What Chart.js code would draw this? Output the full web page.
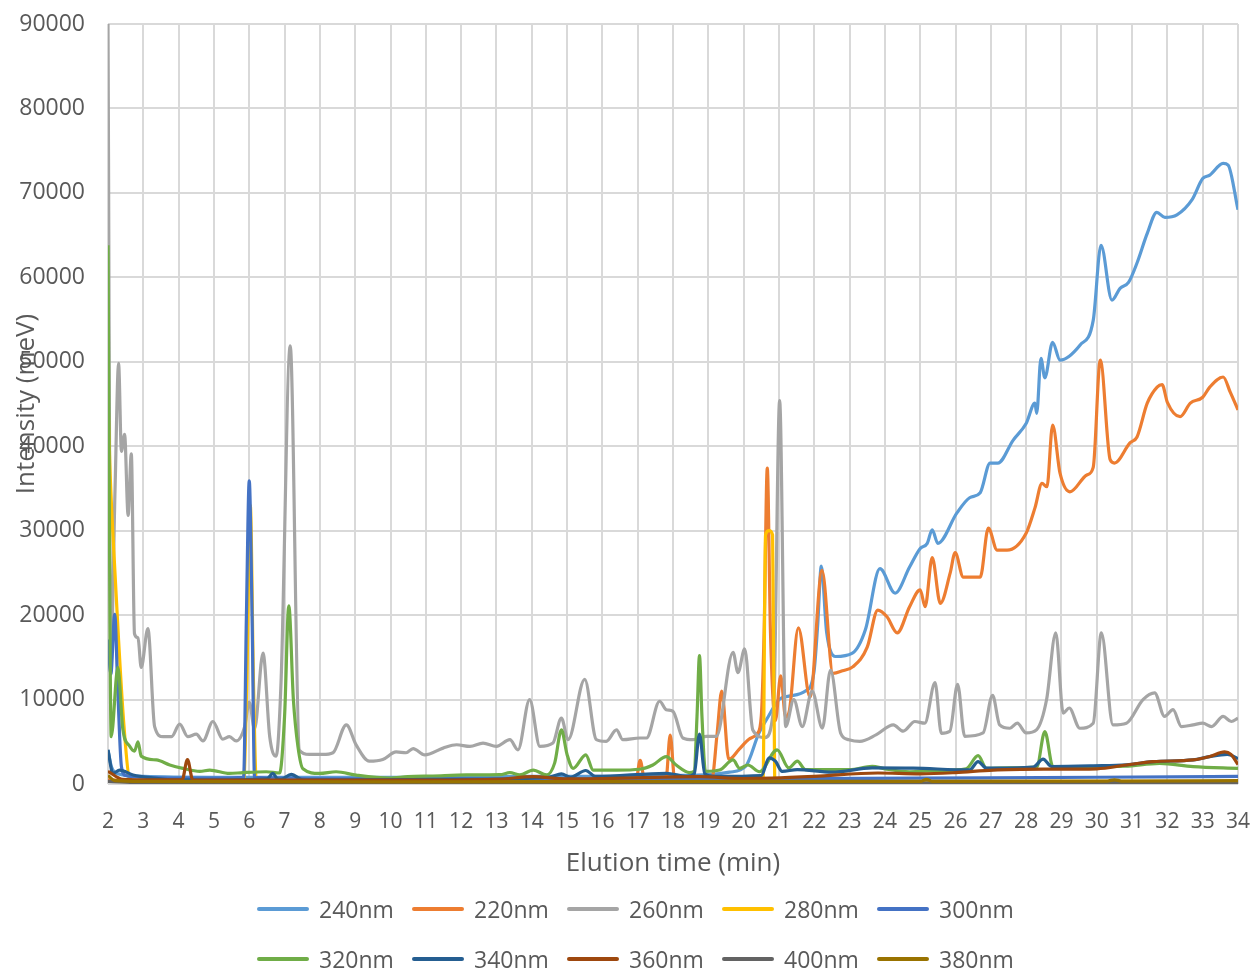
<!DOCTYPE html>
<html>
<head>
<meta charset="utf-8">
<script src="https://cdn.jsdelivr.net/npm/chart.js@4"></script>
<style>
  body { margin: 0; background: #fff; font-family: "Open Sans", sans-serif; }
  #wrap { position: relative; width: 1256px; height: 970px; }
  #legend {
    position: absolute; left: 257px; top: 884px; width: 790px;
    display: grid; grid-template-columns: repeat(5, 155px); grid-auto-rows: 50px;
  }
  .item { display: flex; align-items: center; color: #595959; font-size: 23px; }
  .swatch { width: 52px; height: 4px; border-radius: 2px; margin-right: 10px; }
</style>
</head>
<body>
<div id="wrap">
  <canvas id="myChart" width="1256" height="890"></canvas>
  <div id="legend"></div>
</div>
<script>
const seriesNames = ['240nm', '220nm', '260nm', '280nm', '300nm', '320nm', '340nm', '360nm', '400nm', '380nm']
const seriesColors = ['#5B9BD5', '#ED7D31', '#A5A5A5', '#FFC000', '#4472C4', '#70AD47', '#255E91', '#9E480E', '#636363', '#997300']

const t240 = [2, 2.1, 2.3, 3, 5, 8, 10, 12, 14, 16, 18, 19, 19.6, 20.06, 20.43, 20.7, 21.0, 21.28, 21.75, 21.99, 22.1, 22.2, 22.35, 22.6, 23.08, 23.45, 23.86, 24.29, 24.7, 25.0, 25.2, 25.34, 25.5, 26.04, 26.4, 26.7, 26.98, 27.2, 27.63, 28.0, 28.25, 28.3, 28.42, 28.53, 28.75, 28.96, 29.53, 29.9, 30.12, 30.43, 30.66, 30.9, 31.14, 31.43, 31.7, 31.93, 32.27, 32.7, 33.0, 33.2, 33.58, 33.72, 34.0]
const v240 = [4000, 2000, 1200, 900, 800, 800, 800, 800, 900, 900, 1000, 1100, 1400, 2100, 6000, 8000, 10000, 10400, 11000, 13200, 19000, 25800, 18000, 15100, 15500, 18300, 25500, 22600, 25700, 27900, 28500, 30100, 28500, 32100, 33900, 34500, 38000, 38000, 40700, 42700, 45100, 43900, 50400, 48100, 52300, 50200, 52000, 54900, 63800, 57300, 58700, 59400, 61700, 65200, 67700, 67100, 67400, 69200, 71700, 72100, 73500, 73300, 68000]

const t220 = [2, 3, 6, 10, 14, 16.95, 17.07, 17.2, 17.8, 17.92, 18.05, 18.5, 19.1, 19.25, 19.38, 19.58, 19.87, 20.15, 20.39, 20.5, 20.58, 20.67, 20.76, 20.9, 21.05, 21.19, 21.3, 21.55, 21.88, 22.22, 22.53, 22.8, 23.1, 23.5, 23.8, 24.06, 24.35, 24.7, 25.0, 25.14, 25.34, 25.57, 25.85, 25.99, 26.22, 26.7, 26.93, 27.18, 27.46, 28.0, 28.25, 28.45, 28.59, 28.75, 28.96, 29.24, 29.72, 29.9, 30.1, 30.38, 30.5, 30.94, 31.14, 31.43, 31.71, 31.85, 32.0, 32.36, 32.65, 33.0, 33.2, 33.58, 33.78, 34.0]
const v220 = [500, 400, 400, 400, 400, 400, 2800, 400, 500, 5800, 500, 500, 600, 6000, 11000, 2900, 4100, 5300, 6000, 8000, 18000, 37400, 18000, 7500, 12800, 7900, 8800, 18500, 10300, 25300, 13100, 13400, 13900, 16200, 20600, 19800, 17900, 21000, 23000, 21000, 26800, 21400, 25000, 27400, 24500, 24500, 30300, 27700, 27700, 29700, 32700, 35600, 35200, 42500, 36800, 34600, 36600, 37500, 50200, 38400, 38000, 40400, 41100, 45100, 47000, 47300, 45200, 43500, 45100, 45800, 47000, 48200, 46400, 44300]

const t260 = [2, 2.08, 2.2, 2.3, 2.38, 2.47, 2.57, 2.66, 2.75, 2.85, 2.94, 3.13, 3.32, 3.56, 3.8, 4.03, 4.26, 4.5, 4.69, 4.97, 5.25, 5.44, 5.63, 5.87, 6.0, 6.15, 6.39, 6.58, 6.76, 6.9, 7.16, 7.42, 7.7, 8.08, 8.37, 8.75, 9.03, 9.4, 9.78, 10.16, 10.44, 10.64, 10.97, 11.49, 11.87, 12.25, 12.62, 13.0, 13.38, 13.61, 13.94, 14.23, 14.6, 14.84, 15.03, 15.5, 15.83, 16.11, 16.4, 16.58, 17.06, 17.25, 17.62, 17.81, 18.0, 18.28, 18.57, 18.94, 19.23, 19.7, 19.84, 20.03, 20.26, 20.6, 20.85, 21.02, 21.19, 21.42, 21.66, 21.94, 22.23, 22.46, 22.75, 22.98, 23.29, 23.76, 24.24, 24.52, 24.85, 25.13, 25.42, 25.6, 25.84, 26.06, 26.26, 26.78, 27.05, 27.25, 27.54, 27.75, 28.0, 28.3, 28.58, 28.84, 29.05, 29.22, 29.52, 29.9, 30.13, 30.46, 30.84, 31.31, 31.64, 31.92, 32.16, 32.4, 32.73, 33.0, 33.25, 33.58, 33.81, 34.0]
const v260 = [90000, 15000, 35000, 49800, 39400, 41400, 31800, 39100, 17800, 17300, 13800, 18400, 6800, 5600, 5600, 7100, 5600, 5900, 5100, 7400, 5300, 5600, 5100, 6800, 9700, 6500, 15500, 5600, 3300, 12000, 51900, 4000, 3500, 3500, 3700, 7000, 4600, 2700, 2900, 3800, 3700, 4200, 3450, 4250, 4650, 4450, 4850, 4450, 5250, 4050, 10000, 4450, 4850, 7800, 5250, 12400, 5250, 5050, 6400, 5250, 5450, 5450, 9800, 8800, 8600, 5450, 5250, 5650, 5650, 15600, 13200, 16000, 6400, 5500, 9000, 45400, 6800, 10000, 6800, 11000, 6600, 13500, 6000, 5250, 5050, 5850, 7000, 6250, 7400, 7200, 12000, 6000, 6250, 11800, 5650, 6050, 10500, 7000, 6600, 7200, 6050, 6450, 10000, 17900, 8400, 9000, 6600, 7200, 17900, 7000, 7200, 10000, 10800, 8000, 8800, 6800, 7000, 7200, 6800, 8000, 7400, 7800]

const t280 = [2, 2.05, 2.14, 2.3, 2.45, 2.61, 2.8, 5.84, 5.93, 6.03, 6.12, 6.2, 20.55, 20.62, 20.72, 20.82, 20.88, 21.1, 34]
const v280 = [46000, 38000, 29500, 17000, 7000, 600, 300, 300, 12000, 33000, 12000, 300, 500, 29500, 30000, 29500, 500, 300, 300]

const t300 = [2, 2.08, 2.19, 2.28, 2.38, 2.5, 3, 4, 5, 5.84, 5.92, 6.0, 6.08, 6.15, 7, 8, 10, 15, 20, 25, 30, 34]
const v300 = [17100, 13000, 20100, 10800, 2060, 1000, 800, 700, 700, 800, 20000, 35900, 20000, 800, 700, 600, 600, 600, 600, 700, 800, 900]

const t320 = [2, 2.09, 2.28, 2.42, 2.61, 2.75, 2.85, 2.94, 3.37, 3.75, 4.12, 4.6, 4.88, 5.44, 5.82, 6.48, 6.86, 7.0, 7.12, 7.25, 7.38, 7.52, 7.99, 8.46, 9.03, 9.97, 10.49, 11.2, 12.15, 13.1, 13.38, 13.66, 14.04, 14.42, 14.65, 14.84, 15.0, 15.17, 15.53, 15.74, 16.4, 17.06, 17.43, 17.81, 18.09, 18.47, 18.6, 18.68, 18.75, 18.82, 18.92, 19.32, 19.7, 19.89, 20.12, 20.45, 20.95, 21.28, 21.52, 21.75, 23.0, 23.64, 24.0, 24.7, 25.5, 26.3, 26.64, 26.88, 27.5, 28.3, 28.53, 28.76, 29.9, 30.8, 31.78, 32.73, 34]
const v320 = [63800, 5600, 13800, 6500, 4500, 3900, 5000, 3300, 2850, 2250, 1850, 1500, 1650, 1250, 1350, 1450, 1300, 8000, 21100, 10000, 4400, 1800, 1250, 1450, 1050, 700, 870, 950, 1070, 1100, 1350, 1070, 1650, 1070, 2500, 6400, 3500, 1850, 3450, 1650, 1650, 1750, 2250, 3250, 2250, 1350, 1500, 8000, 15200, 8000, 1500, 1650, 2850, 1850, 2250, 1450, 4050, 1900, 2700, 1700, 1700, 2100, 1800, 1450, 1600, 1800, 3350, 1850, 1900, 2000, 6200, 2050, 2050, 2100, 2450, 2050, 1850]

const t340 = [2, 2.14, 2.33, 2.71, 3.37, 3.84, 5, 6.5, 6.67, 6.8, 6.9, 7.19, 7.52, 9, 12, 14.5, 14.84, 15.1, 15.53, 15.8, 17.81, 18.4, 18.6, 18.75, 18.9, 19.2, 20.5, 20.72, 20.9, 21.09, 21.52, 22.5, 23.64, 24.8, 26.4, 26.64, 26.88, 28.2, 28.48, 28.72, 29.9, 30.84, 31.6, 32.73, 33.2, 33.7, 34]
const v340 = [4050, 1250, 1650, 1070, 680, 480, 480, 600, 1250, 600, 550, 1150, 480, 500, 550, 800, 1200, 800, 1600, 900, 1270, 900, 1200, 5900, 1200, 900, 1000, 3100, 2700, 1500, 1700, 1400, 1900, 1870, 1670, 2650, 1870, 2000, 2950, 2070, 2150, 2270, 2650, 2850, 3250, 3500, 3000]

const t360 = [2, 2.42, 3, 4.1, 4.25, 4.4, 6, 10, 13, 14.04, 15, 18.75, 20, 20.8, 22, 23.8, 25, 26, 27.07, 28.5, 30, 30.84, 31.6, 32.73, 33.2, 33.62, 33.8, 34]
const v360 = [1500, 550, 500, 500, 2900, 500, 450, 450, 550, 870, 600, 870, 650, 700, 900, 1300, 1200, 1350, 1650, 1750, 1800, 2250, 2650, 2850, 3250, 3800, 3500, 2300]

const t400 = [2, 3, 10, 20, 28, 34]
const v400 = [300, 150, 100, 100, 150, 200]

const t380 = [2, 2.2, 3, 10, 20, 25.0, 25.18, 25.35, 30.3, 30.5, 30.7, 34]
const v380 = [1000, 400, 300, 250, 300, 300, 550, 300, 350, 500, 350, 400]

const times = [t240, t220, t260, t280, t300, t320, t340, t360, t400, t380]
const values = [v240, v220, v260, v280, v300, v320, v340, v360, v400, v380]

const axisGray = '#595959'
const gridGray = '#D9D9D9'

const datasets = seriesNames.map((name, i) => ({
	label: name,
	data: times[i].map((t, j) => ({ x: t, y: values[i][j] })),
	borderColor: seriesColors[i],
	backgroundColor: seriesColors[i],
	borderWidth: 3.2,
	pointRadius: 0,
	cubicInterpolationMode: 'monotone',
	order: -i,
}))

const ctx = document.getElementById('myChart')

const chart = new Chart(ctx, {
	type: 'line',
	data: { datasets },
	options: {
		responsive: false,
		animation: false,
		devicePixelRatio: 1,
		layout: { padding: { top: 24, right: 18, left: 0, bottom: 0 } },
		plugins: {
			legend: { display: false },
			tooltip: { enabled: false },
		},
		scales: {
			x: {
				type: 'linear',
				min: 2,
				max: 34,
				afterFit: (scale) => { scale.height = 106 },
				// label gap comes from an invisible tick so it does not eat plot room
				grid: { color: gridGray, lineWidth: 2, tickLength: 25, tickColor: 'rgba(0,0,0,0)' },
				border: { display: false },
				ticks: {
					stepSize: 1,
					padding: 0,
					color: axisGray,
					font: { family: 'Open Sans', size: 21 },
					callback: (v) => v,
				},
				title: {
					display: true,
					text: 'Elution time (min)',
					color: axisGray,
					font: { family: 'Open Sans', size: 26 },
					padding: { top: 0, bottom: 11 },
				},
			},
			y: {
				min: 0,
				max: 90000,
				afterFit: (scale) => { scale.width = 108 },
				grid: { color: gridGray, lineWidth: 2, tickLength: 23, tickColor: 'rgba(0,0,0,0)' },
				border: { display: false },
				ticks: {
					stepSize: 10000,
					padding: 0,
					color: axisGray,
					font: { family: 'Open Sans', size: 23 },
					callback: (v) => v,
				},
				title: {
					display: true,
					text: 'Intensity (meV)',
					color: axisGray,
					font: { family: 'Open Sans', size: 26 },
					padding: { top: 11, bottom: 0 },
				},
			},
		},
	},
})

// legend below the plot, 5 per row like the original
const legendBox = document.getElementById('legend')
seriesNames.forEach((name, i) => {
	const item = document.createElement('div')
	item.className = 'item'
	item.innerHTML = '<span class="swatch" style="background:' + seriesColors[i] + '"></span>' + name
	legendBox.appendChild(item)
})
</script>
</body>
</html>
